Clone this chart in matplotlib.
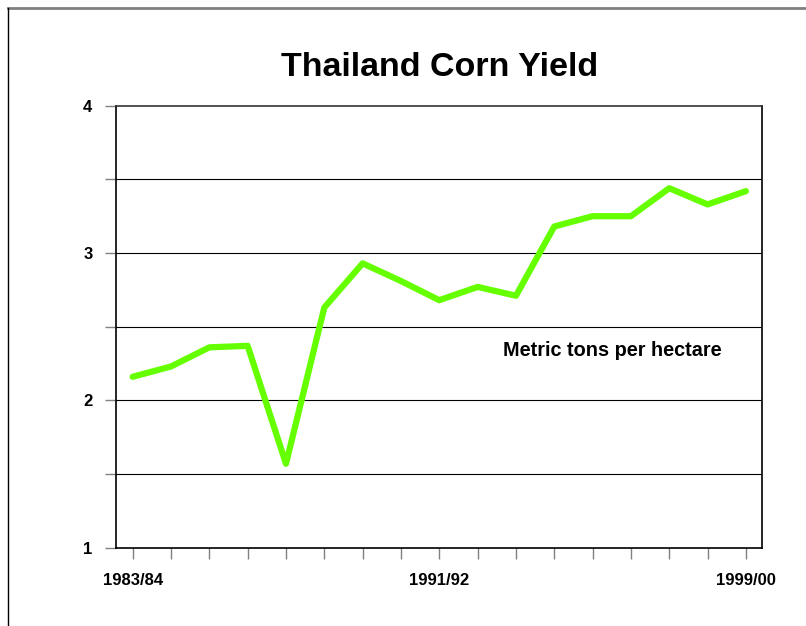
import matplotlib.pyplot as plt
from matplotlib.lines import Line2D

plt.rcParams['font.family'] = ['Liberation Sans', 'DejaVu Sans']

# Datos del gráfico
years = ['1983/84', '1984/85', '1985/86', '1986/87', '1987/88', '1988/89',
         '1989/90', '1990/91', '1991/92', '1992/93', '1993/94', '1994/95',
         '1995/96', '1996/97', '1997/98', '1998/99', '1999/00']
yield_t_ha = [2.16, 2.23, 2.36, 2.37, 1.57, 2.63, 2.93, 2.81, 2.68, 2.77,
              2.71, 3.18, 3.25, 3.25, 3.44, 3.33, 3.42]
shown_labels = ['1983/84', '1991/92', '1999/00']
y_ticks = [1, 1.5, 2, 2.5, 3, 3.5, 4]

fig = plt.figure(figsize=(8.06, 6.26), dpi=100)
ax = fig.add_axes([116 / 806, 1 - 547.7 / 626, 646 / 806, 442 / 626])

x = list(range(len(years)))
ax.plot(x, yield_t_ha, color='#66ff00', linewidth=4.5, solid_joinstyle='round',
        solid_capstyle='round', zorder=3)

# Líneas de cuadrícula horizontales
for yv in y_ticks[1:-1]:
    ax.axhline(yv, color='black', linewidth=0.8, zorder=1)

ax.set_xlim(-0.435, len(years) - 1 + 0.42)
ax.set_ylim(1, 4)

ax.set_xticks(x)
ax.set_xticklabels([y if y in shown_labels else '' for y in years])
ax.set_yticks(y_ticks)
ax.set_yticklabels([str(int(v)) if v == int(v) else '' for v in y_ticks])

ax.tick_params(axis='both', direction='out', length=8, width=1, color='#808080',
               labelsize=12)
ax.tick_params(axis='x', pad=10)
ax.tick_params(axis='y', pad=9)
for lbl in ax.get_xticklabels() + ax.get_yticklabels():
    lbl.set_fontweight('bold')

for side in ['left', 'bottom', 'right']:
    ax.spines[side].set_color('black')
    ax.spines[side].set_linewidth(1.2)
ax.spines['top'].set_color('#333333')
ax.spines['top'].set_linewidth(1.2)

ax.text(0.769, 0.447, 'Metric tons per hectare', transform=ax.transAxes,
        ha='center', va='center', fontsize=14.3, fontweight='bold')

fig.text(440 / 806, 1 - 67 / 626, 'Thailand Corn Yield', ha='center', va='center',
         fontsize=24.5, fontweight='bold')

# Bordes del marco exterior
fig.add_artist(Line2D([8 / 806, 1], [1 - 7.5 / 626, 1 - 7.5 / 626],
                      transform=fig.transFigure, color='#808080', linewidth=2))
fig.add_artist(Line2D([8.3 / 806, 8.3 / 806], [0, 1 - 7.5 / 626],
                      transform=fig.transFigure, color='black', linewidth=1))

fig.savefig('out.png', dpi=100)
